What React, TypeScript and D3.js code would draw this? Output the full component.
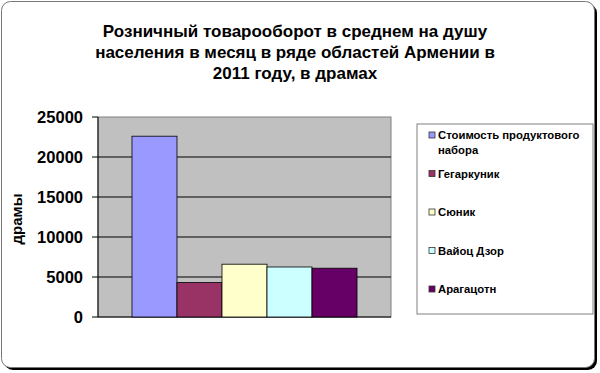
import React from "react";
import { scaleBand, scaleLinear } from "d3";

const titleLines = [
  "Розничный товарооборот в среднем на душу",
  "населения в месяц в ряде областей Армении в",
  "2011 году, в драмах",
];
const seriesNames = [
  ["Стоимость продуктового", "набора"],
  ["Гегаркуник"],
  ["Сюник"],
  ["Вайоц Дзор"],
  ["Арагацотн"],
];
const seriesValues = [22600, 4300, 6600, 6250, 6100];
const seriesColors = ["#9999FF", "#993366", "#FFFFCC", "#CCFFFF", "#660066"];
const yTicks = [0, 5000, 10000, 15000, 20000, 25000];
const yLabel = "драмы";

const font = "'Liberation Sans', Arial, sans-serif";

export default function App() {
  const width = 600;
  const height = 373;
  const plot = { left: 98, right: 391, top: 117, bottom: 317 };

  const yScale = scaleLinear().domain([0, 25000]).range([plot.bottom, plot.top]);
  const groupScale = scaleBand()
    .domain(["2011"])
    .range([plot.left, plot.right])
    .paddingInner(0)
    .paddingOuter(0.151);
  const barScale = scaleBand()
    .domain(seriesValues.map((_, i) => String(i)))
    .range([groupScale("2011"), groupScale("2011") + groupScale.bandwidth()])
    .padding(0);

  const legend = { x: 417, y: 124, w: 176, h: 190 };
  const legendRow = 38.5;

  return (
    <svg
      width={width}
      height={height}
      style={{ position: "absolute", left: 0, top: 0 }}
      fontFamily={font}
    >
      {/* frame with shadow */}
      <rect x={4} y={4} width={593} height={366} rx={9} fill="#000" />
      <rect x={1.5} y={1.5} width={593} height={366} rx={9} fill="#fff" stroke="#777" />

      {titleLines.map((t, i) => (
        <text
          key={i}
          x={295}
          y={37 + i * 21}
          textAnchor="middle"
          fontSize={17}
          fontWeight="bold"
        >
          {t}
        </text>
      ))}

      <rect
        x={plot.left}
        y={plot.top}
        width={plot.right - plot.left}
        height={plot.bottom - plot.top}
        fill="#C0C0C0"
        stroke="#808080"
      />
      {yTicks.map((t) => (
        <g key={t} transform={`translate(0,${yScale(t)})`}>
          {t > 0 && t < 25000 && (
            <line x1={plot.left} x2={plot.right} stroke="#000" />
          )}
          <line x1={plot.left - 6} x2={plot.left} stroke="#000" />
          <text
            x={83}
            dy="0.36em"
            textAnchor="end"
            fontSize={16.5}
            fontWeight="bold"
          >
            {t}
          </text>
        </g>
      ))}
      <line x1={plot.left} x2={plot.left} y1={plot.top} y2={plot.bottom} stroke="#000" />
      <line x1={plot.left} x2={plot.right} y1={plot.bottom} y2={plot.bottom} stroke="#000" />

      {seriesValues.map((v, i) => (
        <rect
          key={i}
          x={barScale(String(i))}
          y={yScale(v)}
          width={barScale.bandwidth()}
          height={yScale(0) - yScale(v)}
          fill={seriesColors[i]}
          stroke="#000"
          strokeWidth={0.8}
        />
      ))}

      <text
        transform={`translate(22,${(plot.top + plot.bottom) / 2 + 2}) rotate(-90)`}
        textAnchor="middle"
        fontSize={15}
        fontWeight="bold"
      >
        {yLabel}
      </text>

      <rect
        x={legend.x}
        y={legend.y}
        width={legend.w}
        height={legend.h}
        fill="#fff"
        stroke="#808080"
      />
      {seriesNames.map((lines, i) => {
        const cy = 135 + i * legendRow;
        return (
          <g key={i}>
            <rect
              x={429}
              y={cy - 3}
              width={6}
              height={6}
              fill={seriesColors[i]}
              stroke="#333"
              strokeWidth={0.8}
            />
            {lines.map((l, j) => (
              <text
                key={j}
                x={438}
                y={cy + 4 + j * 14.5}
                fontSize={11.3}
                fontWeight="bold"
              >
                {l}
              </text>
            ))}
          </g>
        );
      })}
    </svg>
  );
}
